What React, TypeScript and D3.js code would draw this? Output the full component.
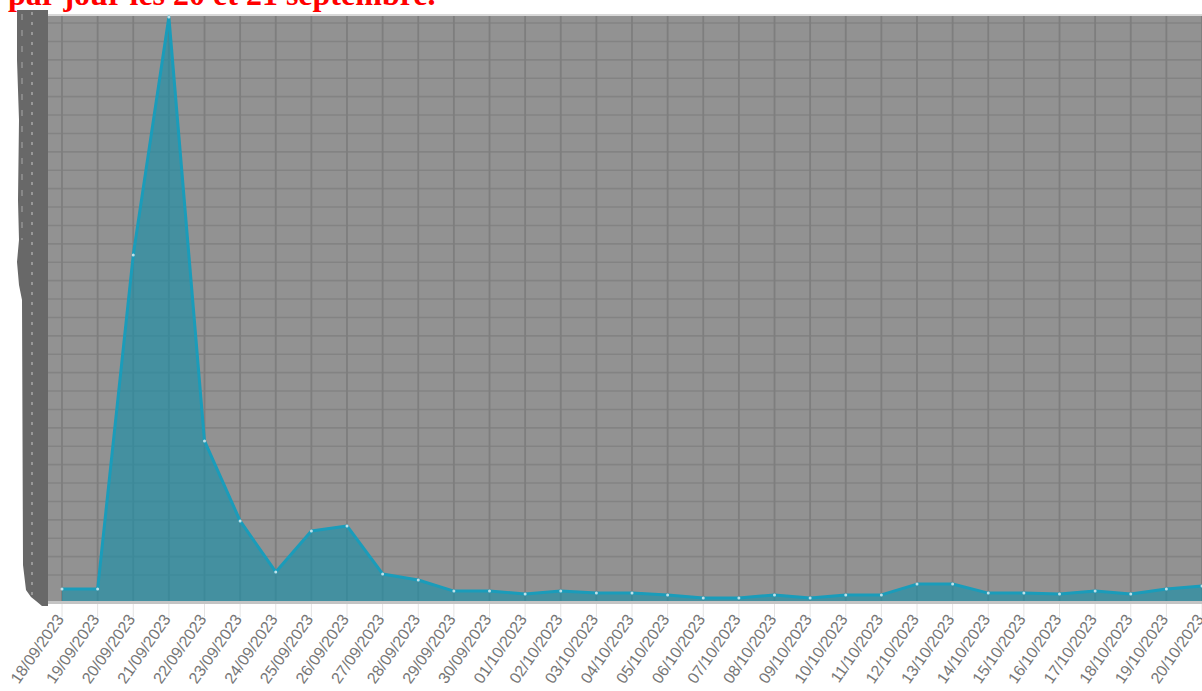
import React, { useEffect, useRef } from 'react';
import * as d3 from 'd3';

const dates = [
  '18/09/2023', '19/09/2023', '20/09/2023', '21/09/2023', '22/09/2023', '23/09/2023',
  '24/09/2023', '25/09/2023', '26/09/2023', '27/09/2023', '28/09/2023', '29/09/2023',
  '30/09/2023', '01/10/2023', '02/10/2023', '03/10/2023', '04/10/2023', '05/10/2023',
  '06/10/2023', '07/10/2023', '08/10/2023', '09/10/2023', '10/10/2023', '11/10/2023',
  '12/10/2023', '13/10/2023', '14/10/2023', '15/10/2023', '16/10/2023', '17/10/2023',
  '18/10/2023', '19/10/2023', '20/10/2023',
];

const values = [
  65, 65, 1880, 3174, 870, 435, 158, 380, 408, 147, 114, 54, 54, 38, 54, 43, 43,
  33, 16, 16, 33, 16, 33, 33, 92, 92, 43, 43, 38, 54, 38, 65, 82,
];

// horizontal grid values (every 100, offset from the base)
const gridValues = d3.range(141, 3200, 100);

const title = 'par jour les 20 et 21 septembre.';

const App: React.FC = () => {
  const svgRef = useRef<SVGSVGElement>(null);

  useEffect(() => {
    if (!svgRef.current) return;
    const width = 1202;
    const height = 691;
    const plot = { left: 48, right: 1202, top: 16, bottom: 601 };
    const svg = d3.select(svgRef.current);
    svg.selectAll('*').remove();

    svg.append('rect').attr('width', width).attr('height', height).attr('fill', '#ffffff');

    const x = d3.scalePoint<string>().domain(dates).range([62, 1202]);
    const y = d3.scaleLinear().domain([0, 3174]).range([plot.bottom, 17]);

    // plot background
    svg.append('rect')
      .attr('x', plot.left).attr('y', plot.top)
      .attr('width', plot.right - plot.left).attr('height', plot.bottom - plot.top)
      .attr('fill', '#929292');
    svg.append('rect')
      .attr('x', plot.left).attr('y', plot.top - 2)
      .attr('width', plot.right - plot.left).attr('height', 2)
      .attr('fill', '#d8d8d8');

    // horizontal grid
    svg.append('g').selectAll('line').data(gridValues).join('line')
      .attr('x1', plot.left).attr('x2', plot.right)
      .attr('y1', d => y(d)).attr('y2', d => y(d))
      .attr('stroke', '#838383').attr('stroke-width', 1.6);

    // vertical grid + ticks below
    svg.append('g').selectAll('line').data(dates).join('line')
      .attr('x1', d => x(d)!).attr('x2', d => x(d)!)
      .attr('y1', plot.top).attr('y2', plot.bottom)
      .attr('stroke', '#7e7e7e').attr('stroke-width', 1.8);
    svg.append('g').selectAll('line').data(dates).join('line')
      .attr('x1', d => x(d)!).attr('x2', d => x(d)!)
      .attr('y1', plot.bottom).attr('y2', plot.bottom + 16)
      .attr('stroke', '#e4e4e4').attr('stroke-width', 1);

    // area + line
    const area = d3.area<number>()
      .x((_, i) => x(dates[i])!)
      .y0(plot.bottom)
      .y1(d => y(d));
    svg.append('path').datum(values)
      .attr('d', area)
      .attr('fill', '#1a8fa8').attr('opacity', 0.65);

    const line = d3.line<number>()
      .x((_, i) => x(dates[i])!)
      .y(d => y(d));
    svg.append('path').datum(values)
      .attr('d', line)
      .attr('fill', 'none')
      .attr('stroke', '#1a9cba').attr('stroke-width', 3)
      .attr('stroke-linejoin', 'round');

    svg.append('g').selectAll('circle').data(values).join('circle')
      .attr('cx', (_, i) => x(dates[i])!).attr('cy', d => y(d))
      .attr('r', 1.5).attr('fill', '#bfe0e8');

    // bottom border strip
    svg.append('rect')
      .attr('x', plot.left).attr('y', plot.bottom)
      .attr('width', plot.right - plot.left).attr('height', 3)
      .attr('fill', '#c4c4c4');

    // left dark band (overlapping axis labels)
    svg.append('path')
      .attr('d', 'M17,10 L48,10 L48,606 L42,606 L36,601 L31,597 L26,590 L23,565 L22,300 L19,285 L17,262 L19,240 L18,200 L19,120 L17,60 Z')
      .attr('fill', '#686868');
    svg.append('line')
      .attr('x1', 32).attr('x2', 32).attr('y1', 12).attr('y2', 600)
      .attr('stroke', '#c8c8c8').attr('stroke-width', 1)
      .attr('stroke-dasharray', '3,7');
    svg.append('line')
      .attr('x1', 22).attr('x2', 22).attr('y1', 14).attr('y2', 240)
      .attr('stroke', '#a8a8a8').attr('stroke-width', 1)
      .attr('stroke-dasharray', '6,10');

    // x labels
    svg.append('g').selectAll('text').data(dates).join('text')
      .attr('transform', d => `translate(${x(d)! - 2},${plot.bottom + 15}) rotate(-55)`)
      .attr('text-anchor', 'end')
      .attr('dy', '0.35em')
      .attr('font-family', 'Liberation Sans, Arial, sans-serif')
      .attr('font-size', 16)
      .attr('fill', '#767676')
      .text(d => d);

    // title (clipped at the top)
    svg.append('text')
      .attr('x', 8).attr('y', 5)
      .attr('font-family', 'Liberation Serif, Times New Roman, serif')
      .attr('font-weight', 'bold')
      .attr('font-size', 32)
      .attr('fill', '#ff0000')
      .text(title);
  }, []);

  return (
    <svg
      ref={svgRef}
      width={1202}
      height={691}
      style={{ position: 'absolute', left: 0, top: 0, display: 'block' }}
    />
  );
};

export default App;
